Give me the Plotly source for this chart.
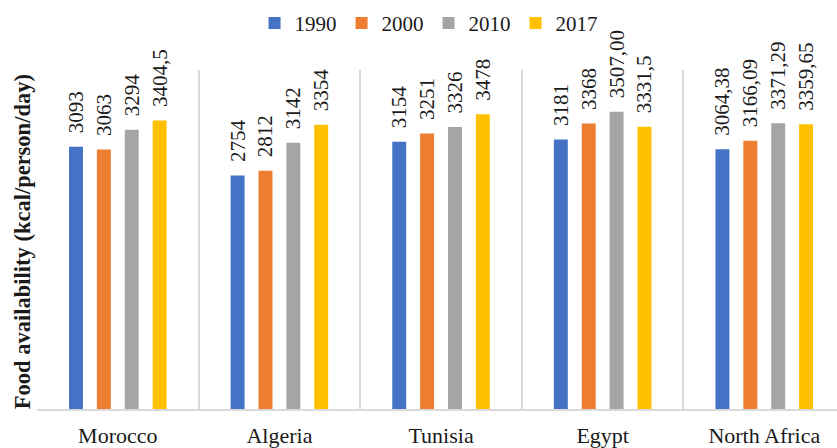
import plotly.graph_objects as go

categories = ["Morocco", "Algeria", "Tunisia", "Egypt", "North Africa"]
years = ["1990", "2000", "2010", "2017"]
v1990 = [3093, 2754, 3154, 3181, 3064.38]
v2000 = [3063, 2812, 3251, 3368, 3166.09]
v2010 = [3294, 3142, 3326, 3507.00, 3371.29]
v2017 = [3404.5, 3354, 3478, 3331.5, 3359.65]
t1990 = ["3093", "2754", "3154", "3181", "3064,38"]
t2000 = ["3063", "2812", "3251", "3368", "3166,09"]
t2010 = ["3294", "3142", "3326", "3507,00", "3371,29"]
t2017 = ["3404,5", "3354", "3478", "3331,5", "3359,65"]
colors = ["#4472C4", "#ED7D31", "#A5A5A5", "#FFC000"]

FONT = "Liberation Serif"
fig = go.Figure()
for name, vals, txt, col in zip(years, [v1990, v2000, v2010, v2017],
                                [t1990, t2000, t2010, t2017], colors):
    fig.add_trace(go.Bar(
        x=categories, y=vals, name=name, marker_color=col, marker_line_width=0,
        text=txt, texttemplate="\u00a0\u00a0%{text}",
        textposition="outside", textangle=-90, constraintext="none",
        cliponaxis=False, textfont=dict(family=FONT, size=21, color="#1a1a1a"),
        hoverinfo="skip"))

fig.update_layout(
    width=837, height=448,
    margin=dict(l=37, r=0, t=70, b=35),
    paper_bgcolor="white", plot_bgcolor="white",
    barmode="group", bargap=0.31, bargroupgap=0.5,
    font=dict(family=FONT, size=22, color="#1a1a1a"),
    showlegend=True,
    legend=dict(orientation="h", xref="container", yref="container",
                x=0.512, xanchor="center", y=0.948, yanchor="middle",
                itemwidth=30,
                font=dict(family=FONT, size=21, color="#1a1a1a"),
                bgcolor="rgba(0,0,0,0)"),
    xaxis=dict(type="category", range=[-0.5, 4.45], tickson="boundaries",
               showgrid=True, gridcolor="#d9d9d9", gridwidth=2,
               showline=True, linecolor="#d9d9d9", linewidth=2,
               ticks="", ticklen=0, ticklabelstandoff=6,
               tickfont=dict(family=FONT, size=22, color="#1a1a1a"),
               fixedrange=True),
    yaxis=dict(range=[0, 4000], showgrid=False, showticklabels=False,
               zeroline=False, showline=False, ticks="", fixedrange=True),
    annotations=[dict(text="<b>Food availability (kcal/person/day)</b>",
                      xref="paper", yref="paper", x=-0.018, y=0.494,
                      xanchor="center", yanchor="middle", textangle=-90,
                      showarrow=False,
                      font=dict(family=FONT, size=22.5, color="#1a1a1a"))],
)
fig.write_html("out.html")
